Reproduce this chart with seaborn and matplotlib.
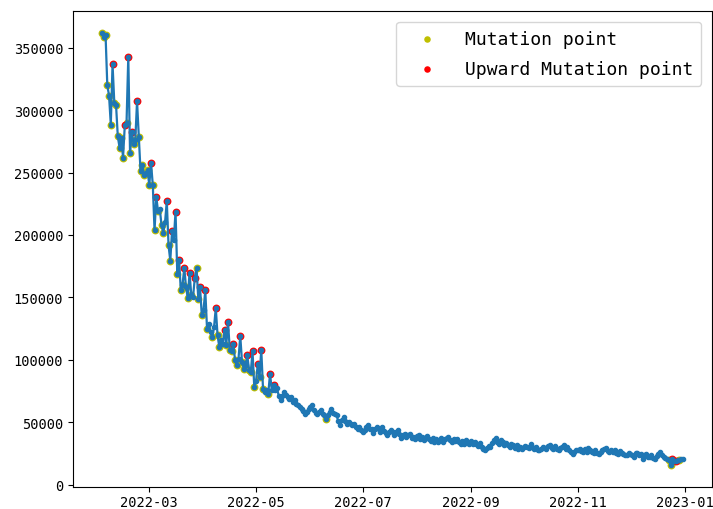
import numpy as np
import pandas as pd
import matplotlib
matplotlib.use("Agg")
import matplotlib.pyplot as plt
import matplotlib.dates as mdates
import seaborn as sns

start_date = "2022-02-02"

values = [
    362000, 358600, 360400, 320000, 311600, 288400, 336700, 306000, 304000, 279000,
    270000, 278000, 262000, 287800, 290000, 342600, 266000, 282700, 273000, 276000,
    307000, 278700, 251000, 256000, 248000, 250000, 251800, 240000, 257600, 240000,
    203700, 230400, 219000, 221000, 207700, 201800, 210000, 227000, 191700, 179400,
    203000, 196000, 218500, 169000, 180200, 156200, 160000, 173800, 158000, 149500,
    169600, 152000, 150000, 165500, 173800, 149000, 158300, 135600, 140000, 155600,
    125000, 129000, 122000, 118300, 126000, 141500, 120000, 110300, 116000, 113000,
    124200, 112000, 130300, 108000, 106800, 113000, 100000, 95600, 101000, 119100,
    98000, 93000, 96000, 103600, 92000, 90000, 106800, 78300, 83000, 96400,
    86000, 108100, 76900, 74000, 76000, 72900, 88900, 76000, 79500, 76000,
    77400, 71000, 67500, 71000, 74500, 72000, 70000, 68900, 70500, 66200,
    67500, 65000, 64100, 62500, 60900, 59000, 56300, 58500, 60900, 62000,
    63500, 60000, 57700, 56300, 58000, 59500, 57000, 55500, 52300, 56000,
    58500, 60900, 57500, 56500, 55500, 51000, 47500, 51500, 54200, 51000,
    48900, 50500, 49000, 47500, 48500, 46500, 44900, 46000, 43500, 42200,
    44000, 46500, 47500, 45000, 44900, 41500, 44500, 46000, 44900, 42000,
    46500, 43000, 41500, 40000, 42500, 44000, 42200, 40000, 42500, 43500,
    40500, 37400, 40000, 41000, 38000, 40000, 40800, 37500, 38500, 36800,
    39000, 40000, 36500, 38200, 35500, 38000, 39000, 36800, 35000, 37500,
    34500, 36500, 34200, 36000, 37500, 34500, 36500, 37500, 38200, 35500,
    34500, 37000, 35000, 36800, 34000, 32800, 35000, 33000, 35500, 33500,
    32500, 35000, 32500, 34500, 32800, 31000, 33500, 30500, 29000, 27500,
    29500, 31000, 30500, 33500, 35500, 37400, 34500, 33000, 35500, 34200,
    32000, 33500, 31500, 30000, 32500, 31500, 29500, 31500, 29000, 30500,
    28800, 30000, 31000, 30500, 29500, 32800, 30500, 29000, 30500, 28000,
    27500, 29000, 30000, 29500, 28500, 31000, 31500, 29500, 28500, 31000,
    29000, 28000, 29400, 30500, 31500, 29000, 30200, 27500, 26000, 24800,
    26500, 28000, 27500, 28800, 27000, 26000, 28500, 26500, 29400, 27500,
    26500, 25500, 27500, 25500, 24800, 26500, 28000, 28500, 29400, 27000,
    26000, 28000, 26200, 27500, 25500, 24500, 27000, 25500, 24500, 23500,
    23500, 25000, 24500, 23500, 22500, 25000, 25500, 23500, 24800, 20800,
    23500, 24500, 22500, 22000, 24000, 21500, 20800, 23000, 24500, 26200,
    24000, 22500, 21400, 20500, 19500, 15500, 20800, 19000, 18700, 19500,
    19500, 20500, 20300,
]

# day offsets (from start_date) of the highlighted points
mutation_days = [
    0, 1, 2, 3, 4, 5, 7, 8, 9, 10, 11, 12, 14, 16, 18, 19, 21, 22, 23, 24,
    25, 26, 27, 29, 30, 32, 34, 35, 38, 39, 43, 45, 46, 48, 49, 51, 54, 55,
    57, 60, 63, 66, 67, 71, 73, 74, 76, 77, 80, 81, 84, 85, 87, 90, 92, 95,
    128, 324, 325, 327, 330,
]
upward_days = [
    6, 13, 15, 17, 20, 28, 31, 37, 40, 42, 44, 47, 50, 53, 56, 59, 65, 70,
    72, 75, 79, 83, 86, 89, 91, 96, 98, 326, 328,
]

dates = pd.date_range(start_date, periods=len(values), freq="D")
df = pd.DataFrame({"date": dates, "value": values})
mut = df.iloc[mutation_days]
up = df.iloc[upward_days]

fig = plt.figure(figsize=(7.13, 5.10), dpi=100)
ax = fig.add_axes([73 / 713, 1 - 488 / 510, 639 / 713, 476 / 510])

sns.scatterplot(data=mut, x="date", y="value", color="y", s=32,
                edgecolor="y", linewidth=0, label="Mutation point", ax=ax, zorder=2)
sns.scatterplot(data=up, x="date", y="value", color="r", s=32,
                edgecolor="r", linewidth=0, label="Upward Mutation point", ax=ax, zorder=2)
sns.lineplot(data=df, x="date", y="value", color="#1f77b4", marker=".",
             markersize=6, mec="#1f77b4", mew=1.0, linewidth=1.6,
             legend=False, ax=ax, zorder=3)

ax.set_xlabel("")
ax.set_ylabel("")
ax.xaxis.set_major_locator(mdates.MonthLocator(bymonth=[1, 3, 5, 7, 9, 11]))
ax.xaxis.set_major_formatter(mdates.DateFormatter("%Y-%m"))
ax.tick_params(axis="x", pad=2.5)

tick_font = "DejaVu Sans Mono"
for lab in ax.get_xticklabels() + ax.get_yticklabels():
    lab.set_fontfamily(tick_font)
    lab.set_fontsize(9.8)

leg = ax.legend(loc="upper right", prop={"family": "DejaVu Sans Mono", "size": 13},
                handlelength=2.5, handletextpad=0.85, borderaxespad=0.6,
                labelspacing=0.65, borderpad=0.45, scatterpoints=1)
for h in leg.legend_handles:
    h.set_sizes([22])

fig.savefig("out.png", dpi=100)
